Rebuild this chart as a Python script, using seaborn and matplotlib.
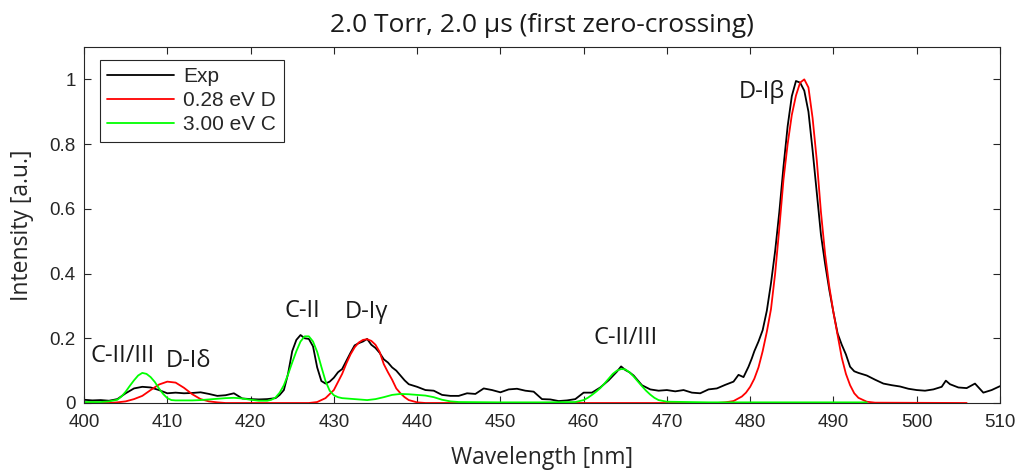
import numpy as np
import pandas as pd
import matplotlib
matplotlib.use("Agg")
import matplotlib.pyplot as plt
import seaborn as sns

# --- data ---
exp_wl = [400, 401, 402, 403, 404, 405, 406, 407, 408, 409, 410, 411, 412, 413, 414,
          415, 416, 417, 418, 419, 420, 421, 422, 423, 423.5, 424, 424.5, 425, 425.5,
          426, 426.5, 427, 427.5, 428, 428.5, 429, 429.5, 430, 430.5, 431, 431.5, 432,
          432.5, 433, 433.5, 434, 434.5, 435, 435.5, 436, 436.5, 437, 437.5, 438, 438.5,
          439, 440, 441, 442, 443, 444, 445, 446, 447, 448, 449, 450, 451, 452, 453,
          454, 455, 456, 457, 458, 459, 460, 461, 462, 463, 464, 464.5, 465, 465.5, 466,
          467, 468, 469, 470, 471, 472, 473, 474, 475, 476, 477, 478, 478.6, 479.2,
          479.8, 480.2, 480.5, 481, 481.5, 482, 482.5, 483, 483.5, 484, 484.5, 485,
          485.5, 486, 486.5, 487, 487.5, 488, 488.5, 489, 489.5, 490, 490.5, 491,
          491.5, 492, 492.5, 493, 494, 495, 496, 497, 498, 499, 500, 501, 502, 503,
          503.5, 504, 505, 506, 507, 508, 509, 510]
exp_int = [0.010, 0.008, 0.009, 0.007, 0.012, 0.030, 0.045, 0.050, 0.048, 0.040, 0.030,
           0.032, 0.030, 0.031, 0.033, 0.028, 0.022, 0.024, 0.030, 0.014, 0.012, 0.011,
           0.012, 0.015, 0.025, 0.040, 0.090, 0.160, 0.195, 0.210, 0.200, 0.198, 0.175,
           0.110, 0.068, 0.060, 0.066, 0.078, 0.095, 0.105, 0.130, 0.155, 0.178, 0.185,
           0.190, 0.198, 0.180, 0.170, 0.155, 0.135, 0.125, 0.110, 0.100, 0.085, 0.070,
           0.058, 0.050, 0.040, 0.038, 0.025, 0.022, 0.022, 0.030, 0.028, 0.045, 0.040,
           0.033, 0.042, 0.044, 0.038, 0.035, 0.012, 0.011, 0.006, 0.008, 0.012, 0.032,
           0.032, 0.048, 0.070, 0.097, 0.113, 0.102, 0.095, 0.085, 0.055, 0.042, 0.038,
           0.040, 0.036, 0.040, 0.032, 0.030, 0.042, 0.045, 0.056, 0.066, 0.087, 0.080,
           0.112, 0.138, 0.160, 0.190, 0.225, 0.285, 0.370, 0.470, 0.590, 0.730, 0.855,
           0.948, 0.995, 0.990, 0.965, 0.900, 0.780, 0.650, 0.520, 0.430, 0.350, 0.280,
           0.215, 0.180, 0.150, 0.112, 0.098, 0.093, 0.085, 0.072, 0.060, 0.055, 0.051,
           0.044, 0.040, 0.038, 0.042, 0.050, 0.069, 0.058, 0.048, 0.046, 0.060, 0.032,
           0.040, 0.052]

red_wl = [400, 403, 404, 405, 406, 407, 408, 409, 410, 411, 412, 413, 414, 415, 416,
          417, 427, 428, 429, 430, 430.5, 431, 431.5, 432, 432.5, 433, 433.5, 434,
          434.5, 435, 435.5, 436, 436.5, 437, 437.5, 438, 438.5, 439, 440, 441, 476,
          477, 478, 479, 479.5, 480, 480.5, 481, 481.5, 482, 482.5, 483, 483.5, 484,
          484.5, 485, 485.5, 486, 486.5, 487, 487.5, 488, 488.5, 489, 489.5, 490,
          490.5, 491, 491.5, 492, 492.5, 493, 494, 495, 506]
red_int = [0.0, 0.0, 0.002, 0.005, 0.012, 0.022, 0.040, 0.057, 0.066, 0.063, 0.047,
           0.027, 0.012, 0.005, 0.002, 0.0, 0.0, 0.003, 0.015, 0.040, 0.065, 0.090,
           0.122, 0.150, 0.172, 0.187, 0.195, 0.197, 0.192, 0.180, 0.158, 0.120, 0.095,
           0.072, 0.045, 0.030, 0.018, 0.009, 0.002, 0.0, 0.0, 0.002, 0.006, 0.020,
           0.032, 0.050, 0.075, 0.110, 0.160, 0.220, 0.290, 0.400, 0.540, 0.690, 0.800,
           0.890, 0.950, 0.990, 1.000, 0.975, 0.880, 0.750, 0.590, 0.460, 0.360, 0.280,
           0.210, 0.140, 0.090, 0.055, 0.030, 0.016, 0.004, 0.001, 0.0]

green_wl = [400, 401, 402, 403, 404, 404.5, 405, 405.5, 406, 406.5, 407, 407.5, 408,
            408.5, 409, 409.5, 410, 410.5, 411, 412, 413, 414, 415, 416, 417, 418,
            419, 420, 421, 422, 422.5, 423, 423.5, 424, 424.5, 425, 425.5, 426, 426.5,
            427, 427.5, 428, 428.5, 429, 429.5, 430, 430.5, 431, 432, 433, 434, 435,
            436, 437, 438, 439, 440, 441, 442, 443, 444, 445, 450, 455, 459, 460,
            460.5, 461, 461.5, 462, 462.5, 463, 463.5, 464, 464.5, 465, 465.5, 466,
            466.5, 467, 467.5, 468, 468.5, 469, 470, 475, 480, 485, 490, 494]
green_int = [0.003, 0.003, 0.003, 0.005, 0.010, 0.020, 0.035, 0.053, 0.070, 0.085,
             0.093, 0.090, 0.080, 0.065, 0.045, 0.028, 0.015, 0.009, 0.008, 0.008,
             0.008, 0.009, 0.011, 0.013, 0.015, 0.016, 0.014, 0.010, 0.007, 0.007,
             0.010, 0.017, 0.032, 0.055, 0.088, 0.125, 0.160, 0.190, 0.206, 0.206,
             0.190, 0.158, 0.112, 0.068, 0.038, 0.024, 0.018, 0.015, 0.013, 0.011,
             0.009, 0.012, 0.018, 0.025, 0.028, 0.027, 0.025, 0.023, 0.018, 0.010,
             0.005, 0.003, 0.002, 0.002, 0.003, 0.009, 0.016, 0.025, 0.035, 0.046,
             0.060, 0.075, 0.090, 0.100, 0.105, 0.104, 0.095, 0.082, 0.067, 0.052,
             0.038, 0.026, 0.016, 0.009, 0.004, 0.002, 0.002, 0.002, 0.002, 0.002]

peak_labels = ["C-II/III", "D-I\u03b4", "C-II", "D-I\u03b3", "C-II/III", "D-I\u03b2"]
label_x = [404.6, 412.5, 426.2, 433.9, 465.0, 481.4]
label_y = [0.146, 0.130, 0.285, 0.282, 0.200, 0.960]

sns.set_style("ticks")
plt.rcParams['font.family'] = ['Liberation Sans', 'DejaVu Sans']
plt.rcParams['xtick.direction'] = 'in'
plt.rcParams['ytick.direction'] = 'in'
axis_col = '#262626'

fig = plt.figure(figsize=(10.21, 4.73), dpi=100)
ax = fig.add_axes([0.0823, 0.148, 0.8971, 0.7526])

sns.lineplot(x=exp_wl, y=exp_int, color='black', linewidth=1.3, label='Exp', ax=ax)
sns.lineplot(x=red_wl, y=red_int, color='#ff0000', linewidth=1.3, label='0.28 eV D', ax=ax)
sns.lineplot(x=green_wl, y=green_int, color='#00ff00', linewidth=1.3, label='3.00 eV C', ax=ax)

ax.set_xlim(400, 510)
ax.set_ylim(0, 1.1)
ax.set_xticks(range(400, 511, 10))
ax.set_yticks([0, 0.2, 0.4, 0.6, 0.8, 1.0])
ax.set_yticklabels(['0', '0.2', '0.4', '0.6', '0.8', '1'])
ax.tick_params(axis='both', labelsize=13.5, colors=axis_col, length=5, width=0.8,
               top=True, right=True)
ax.tick_params(axis='x', pad=8)
ax.tick_params(axis='y', pad=6)
for s in ax.spines.values():
    s.set_visible(True)
    s.set_color(axis_col)
    s.set_linewidth(0.8)

lab_font = ['Open Sans', 'DejaVu Sans']
ax.set_xlabel('Wavelength [nm]', fontsize=16.5, family=lab_font, color=axis_col, labelpad=11)
ax.set_ylabel('Intensity [a.u.]', fontsize=16.5, family=lab_font, color=axis_col, labelpad=11)
ax.set_title('2.0 Torr, 2.0 \u03bcs (first zero-crossing)', fontsize=19, family=lab_font,
             color='#1a1a1a', pad=11)

for txt, xx, yy in zip(peak_labels, label_x, label_y):
    ax.text(xx, yy, txt, ha='center', va='center', fontsize=17, family=lab_font,
            color='#1a1a1a')

leg = ax.legend(loc='upper left', bbox_to_anchor=(0.0175, 0.9635), fontsize=15,
                frameon=True, fancybox=False, edgecolor=axis_col, framealpha=1,
                borderpad=0.35, handlelength=3.2, handletextpad=0.45, labelspacing=0.24,
                borderaxespad=0)
leg.get_frame().set_linewidth(0.8)

fig.savefig('out.png', dpi=100)
plt.close()
